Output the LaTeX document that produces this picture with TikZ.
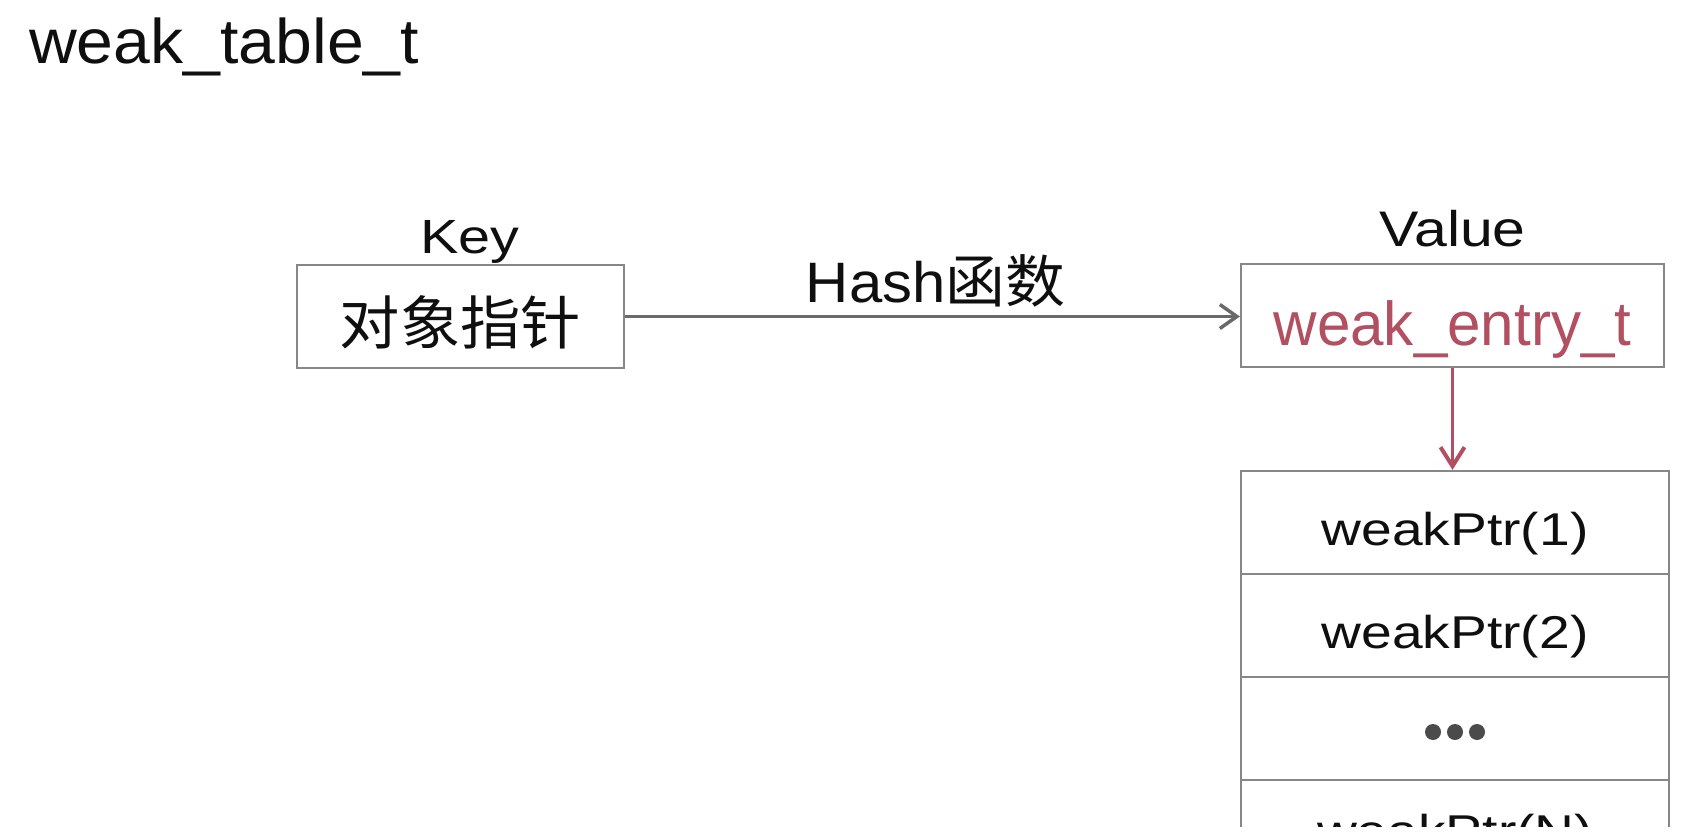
\documentclass[tikz,border=0pt]{standalone}
\usepackage{fontspec}
\usepackage{graphicx}
\setmainfont{Liberation Sans}
\newfontfamily\cjk{Noto Sans CJK SC}
\usetikzlibrary{arrows.meta}
\definecolor{boxgray}{RGB}{135,135,135}
\definecolor{arrgray}{RGB}{105,105,105}
\definecolor{entryred}{RGB}{178,80,98}
\definecolor{inkblack}{RGB}{15,15,15}
\definecolor{dotgray}{RGB}{75,75,75}
\newcommand{\hsc}[2]{\scalebox{#1}[1]{#2}}
\newcommand{\fsz}[1]{\fontsize{#1}{#1}\selectfont}
\begin{document}
\begin{tikzpicture}[x=1pt,y=-1pt,
  box/.style={draw=boxgray, line width=2.2pt, inner sep=0pt, text=inkblack},
  rowbox/.style={box, minimum width=428pt, minimum height=103pt, text height=45pt, text depth=0pt, font=\fsz{46}},
  lbl/.style={anchor=base, inner sep=0pt, text=inkblack},
  garrow/.style={draw=arrgray, line width=2.5pt, -{Straight Barb[length=17pt,width=24pt,line width=3.5pt]}},
  rarrow/.style={draw=entryred, line width=3pt, -{Straight Barb[length=19pt,width=24pt,line width=4pt]}}]
\useasboundingbox (0,0) rectangle (1690,832);
\clip (0,0) rectangle (1690,826);

% title
\node[lbl, anchor=base west, font=\fsz{63}] (title) at (29,64) {\hsc{1.05}{weak\_table\_t}};

% key
\node[lbl, font=\fsz{48}] (keylbl) at (470,253) {\hsc{1.2}{Key}};
\node[box, minimum width=327pt, minimum height=103pt, text height=55pt, text depth=0pt, font=\cjk\fsz{58}] (keybox) at (460.5,316.5) {\hsc{1.04}{对象指针}};

% value
\node[lbl, font=\fsz{50}] (vallbl) at (1452.5,246) {\hsc{1.18}{Value}};
\node[box, minimum width=423pt, minimum height=103pt, text height=59pt, text depth=0pt, text=entryred, font=\fsz{62}] (valbox) at (1452.5,315.5) {\hsc{0.97}{weak\_entry\_t}};

% hash arrow
\draw[garrow] (keybox.east) -- (keybox.east -| valbox.west);
\node[lbl, font=\fsz{57}] (hashlbl) at (935.5,302) {\hsc{1.05}{Hash{\cjk 函数}}};

% list
\node[rowbox] (r1) at (1455,522.5) {\hsc{1.2}{weakPtr(1)}};
\node[rowbox] (r2) at (1455,625.5) {\hsc{1.2}{weakPtr(2)}};
\node[rowbox] (r3) at (1455,728.5) {};
\node[rowbox, text height=31pt] (r4) at (1455,831.5) {\hsc{1.2}{weakPtr(N)}};
\fill[dotgray] ([xshift=-22pt,yshift=-3.5pt]r3.center) circle[radius=8pt];
\fill[dotgray] ([yshift=-3.5pt]r3.center) circle[radius=8pt];
\fill[dotgray] ([xshift=22pt,yshift=-3.5pt]r3.center) circle[radius=8pt];

% red arrow
\draw[rarrow] (valbox.south) -- (valbox.south |- r1.north);
\end{tikzpicture}
\end{document}
